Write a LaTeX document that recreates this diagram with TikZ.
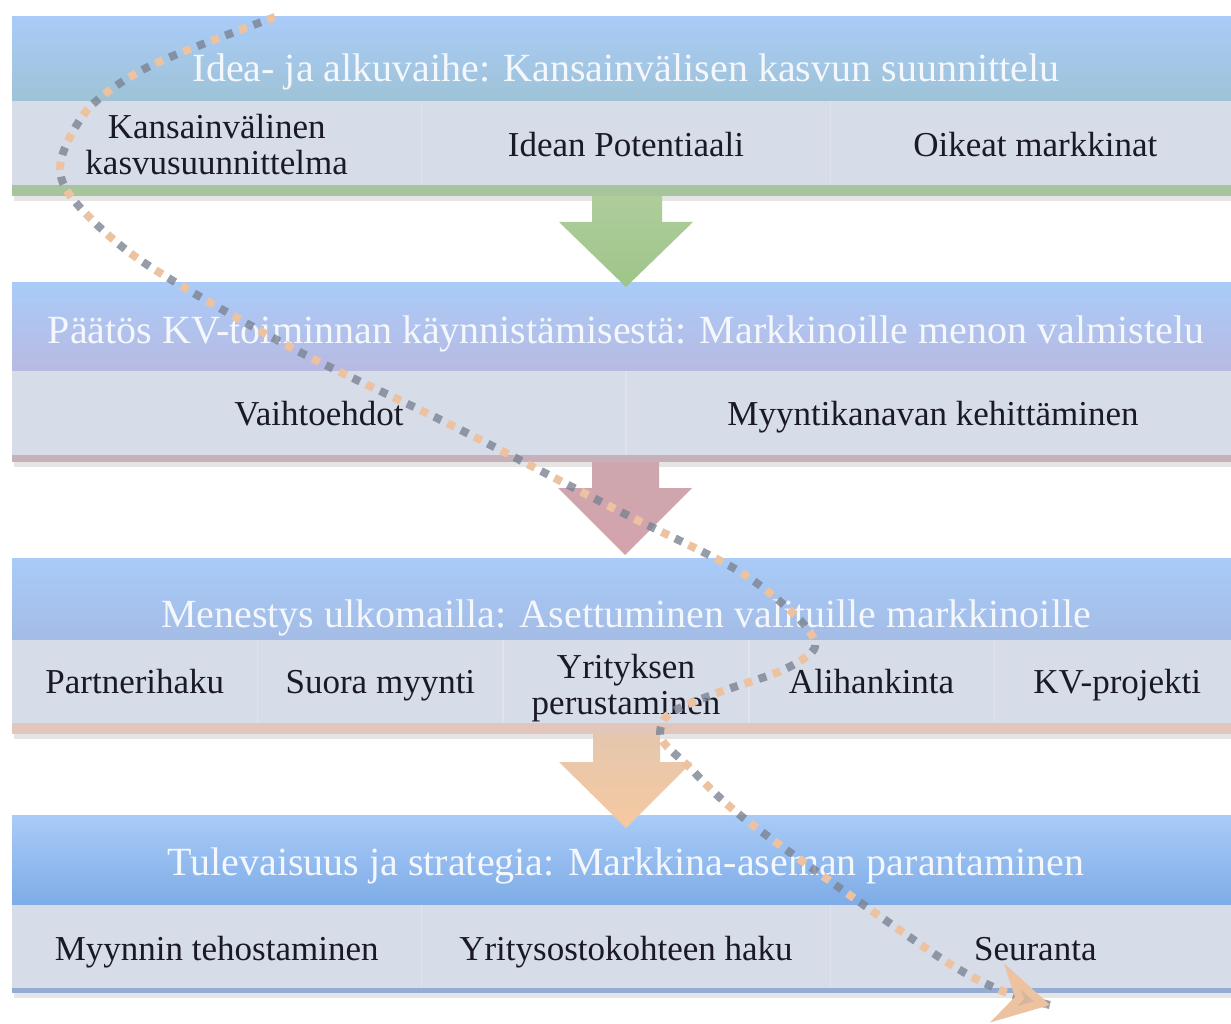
\documentclass[tikz,border=0pt]{standalone}
\usepackage{fontspec}
\setmainfont{Liberation Serif}
\usetikzlibrary{arrows.meta}
\definecolor{hdtop}{HTML}{A9CBF8}
\definecolor{hdbotA}{HTML}{9EC3D6}
\definecolor{hdbotB}{HTML}{B8BAE2}
\definecolor{hdbotC}{HTML}{A3BCE6}
\definecolor{hdbotD}{HTML}{7EACE6}
\definecolor{bodyc}{HTML}{D6DCE8}
\definecolor{sepc}{HTML}{DEE3EE}
\definecolor{stripA}{HTML}{A7C49C}
\definecolor{stripB}{HTML}{C7B0BA}
\definecolor{stripC}{HTML}{E2C6BC}
\definecolor{stripD}{HTML}{94ACD2}
\definecolor{arrA}{HTML}{9FC589}
\definecolor{arrB}{HTML}{D4A3AC}
\definecolor{arrC}{HTML}{F6C8A0}
\definecolor{peach}{HTML}{ECC2A0}
\definecolor{dotgray}{HTML}{7C8493}
\definecolor{hdtxt}{HTML}{F4F7FC}
\definecolor{bdtxt}{HTML}{1A1A26}
\tikzset{
  hdr/.style={draw=none, minimum width=1228pt, inner sep=0pt, top color=hdtop},
  cellbox/.style={draw=none, fill=bodyc, inner sep=0pt, minimum height=84pt},
  hdtext/.style={text=hdtxt, font=\fontsize{40}{43}\selectfont, inner sep=0pt, anchor=base},
  bdtext/.style={text=bdtxt, font=\fontsize{35}{36}\selectfont, inner sep=0pt, align=center},
  rowshadow/.style={fill=black, opacity=0.10},
  dotline/.style={line width=8pt, dash pattern=on 8pt off 22pt},
}
\begin{document}
\begin{tikzpicture}[x=1pt,y=-1pt]
\clip (0,0) rectangle (1231,1024);
\fill[white] (0,0) rectangle (1231,1024);

% ---------------- Row 1 ----------------
\fill[rowshadow] (14,20) rectangle (1244,201);
\node[hdr, bottom color=hdbotA, minimum height=84pt] (h1) at (626,59) {};
\node[cellbox, minimum width=409.3pt] (c11) at (216.7,143) {};
\node[cellbox, minimum width=409.3pt] (c12) at (626,143) {};
\node[cellbox, minimum width=409.3pt] (c13) at (1035.3,143) {};
\fill[stripA] (12,185) rectangle (1240,196);
\draw[sepc, line width=1.5pt] (421.3,101) -- (421.3,185) (830.7,101) -- (830.7,185);
\node[hdtext] (t1) at (626,82) {Idea- ja alkuvaihe: Kansainvälisen kasvun suunnittelu};
\node[bdtext] (x11) at (216.7,145) {Kansainvälinen\\kasvusuunnittelma};
\node[bdtext, anchor=base] (x12) at (626,157) {Idean Potentiaali};
\node[bdtext, anchor=base] (x13) at (1035.3,157) {Oikeat markkinat};

% ---------------- Row 2 ----------------
\fill[rowshadow] (14,286) rectangle (1244,467);
\node[hdr, bottom color=hdbotB, minimum height=88pt] (h2) at (626,327) {};
\node[cellbox, minimum width=614pt] (c21) at (319,413) {};
\node[cellbox, minimum width=614pt] (c22) at (933,413) {};
\fill[stripB] (12,455) rectangle (1240,462);
\draw[sepc, line width=1.5pt] (626,371) -- (626,455);
\node[hdtext] (t2) at (626,343) {Päätös KV-toiminnan käynnistämisestä: Markkinoille menon valmistelu};
\node[bdtext, anchor=base] (x21) at (319,425) {Vaihtoehdot};
\node[bdtext, anchor=base] (x22) at (933,425) {Myyntikanavan kehittäminen};

% ---------------- Row 3 ----------------
\fill[rowshadow] (14,561) rectangle (1244,739);
\node[hdr, bottom color=hdbotC, minimum height=82pt] (h3) at (626,599) {};
\node[cellbox, minimum width=245.6pt, minimum height=83pt] (c31) at (134.8,681.5) {};
\node[cellbox, minimum width=245.6pt, minimum height=83pt] (c32) at (380.4,681.5) {};
\node[cellbox, minimum width=245.6pt, minimum height=83pt] (c33) at (626,681.5) {};
\node[cellbox, minimum width=245.6pt, minimum height=83pt] (c34) at (871.6,681.5) {};
\node[cellbox, minimum width=245.6pt, minimum height=83pt] (c35) at (1117.2,681.5) {};
\fill[stripC] (12,723) rectangle (1240,734);
\draw[sepc, line width=1.5pt] (257.6,640) -- (257.6,723) (503.2,640) -- (503.2,723)
  (748.8,640) -- (748.8,723) (994.4,640) -- (994.4,723);
\node[hdtext] (t3) at (626,627) {Menestys ulkomailla: Asettuminen valituille markkinoille};
\node[bdtext, anchor=base] (x31) at (134.8,693) {Partnerihaku};
\node[bdtext, anchor=base] (x32) at (380.4,693) {Suora myynti};
\node[bdtext] (x33) at (626,688) {Yrityksen\\perustaminen};
\node[bdtext, anchor=base] (x34) at (871.6,693) {Alihankinta};
\node[bdtext, anchor=base] (x35) at (1117.2,693) {KV-projekti};

% ---------------- Row 4 ----------------
\fill[rowshadow] (14,818) rectangle (1244,998);
\node[hdr, bottom color=hdbotD, minimum height=90pt] (h4) at (626,860) {};
\node[cellbox, minimum width=409.3pt, minimum height=83pt] (c41) at (216.7,946.5) {};
\node[cellbox, minimum width=409.3pt, minimum height=83pt] (c42) at (626,946.5) {};
\node[cellbox, minimum width=409.3pt, minimum height=83pt] (c43) at (1035.3,946.5) {};
\fill[stripD] (12,988) rectangle (1240,993);
\draw[sepc, line width=1.5pt] (421.3,905) -- (421.3,988) (830.7,905) -- (830.7,988);
\node[hdtext] (t4) at (626,875) {Tulevaisuus ja strategia: Markkina-aseman parantaminen};
\node[bdtext, anchor=base] (x41) at (216.7,960) {Myynnin tehostaminen};
\node[bdtext, anchor=base] (x42) at (626,960) {Yritysostokohteen haku};
\node[bdtext, anchor=base] (x43) at (1035.3,960) {Seuranta};

% ---------------- Block arrows ----------------
\shade[top color=arrA!85!white, bottom color=arrA] (592,196) -- (662,196) -- (662,222) -- (693,222)
  -- (626,287) -- (559,222) -- (592,222) -- cycle;
\shade[top color=arrB!85!gray!90, bottom color=arrB] (592,462) -- (659,462) -- (659,488) -- (692,488)
  -- (625,555) -- (558,488) -- (592,488) -- cycle;
\shade[top color=arrC!80!gray!80, bottom color=arrC] (593,734) -- (660,734) -- (660,762) -- (692,762)
  -- (626,828) -- (559,762) -- (593,762) -- cycle;

% ---------------- Dotted path ----------------
\coordinate (cs) at (275,17);
\coordinate (ce) at (1050,1005);
\draw[dotline, dotgray, opacity=0.8, dash phase=15pt] plot[smooth, tension=0.5] coordinates {
  (cs) (152,65) (90,107) (61,160) (72,198) (140,260) (290,347) (447,423) (617,510)
  (737,570) (797,617) (815,647) (783,670) (717,693) (669,714) (661,738) (687,765)
  (750,823) (933,953) (1000,990) (ce)};
\draw[dotline, peach, -{Stealth[length=54pt,width=60pt,inset=18pt,fill=peach!80!dotgray]}] plot[smooth, tension=0.5] coordinates {
  (cs) (152,65) (90,107) (61,160) (72,198) (140,260) (290,347) (447,423) (617,510)
  (737,570) (797,617) (815,647) (783,670) (717,693) (669,714) (661,738) (687,765)
  (750,823) (933,953) (1000,990) (ce)};
\end{tikzpicture}
\end{document}
